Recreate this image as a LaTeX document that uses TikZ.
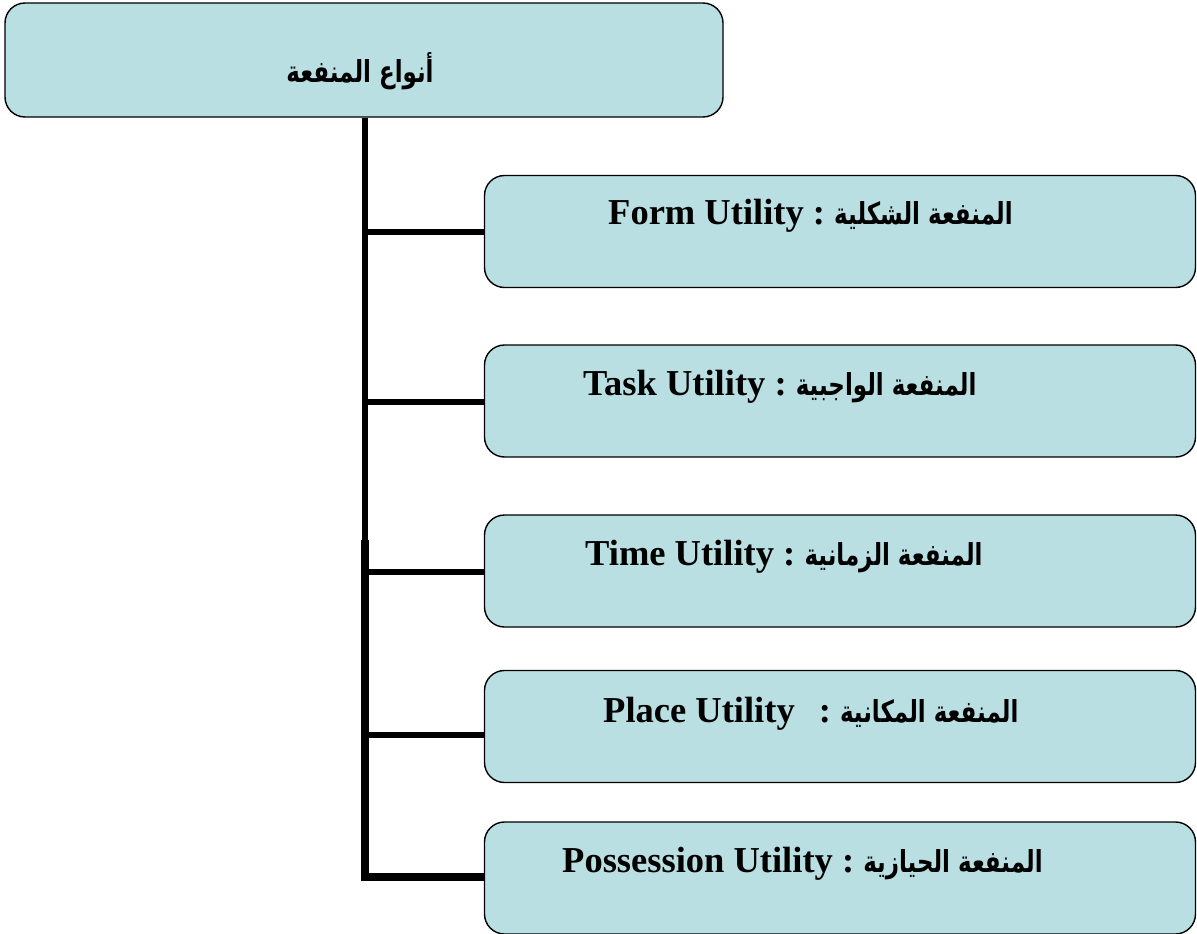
\documentclass[tikz,border=0pt]{standalone}
\usepackage{graphicx}
\usepackage{fontspec}
\setmainfont{Liberation Serif}
\newfontfamily\arabicfont[Script=Arabic]{DejaVu Sans}
\TeXXeTstate=1
\definecolor{boxfill}{HTML}{B9DFE3}
\tikzset{
  ubox/.style={draw=black, line width=1.4pt, fill=boxfill, rounded corners=20pt, minimum width=711pt, minimum height=112pt, inner sep=0pt},
  topbox/.style={ubox, minimum width=718pt, minimum height=114pt},
  utxt/.style={inner sep=0pt, anchor=base west, font=\fontsize{36.5}{40}\selectfont\bfseries},
  toptxt/.style={inner sep=0pt, anchor=base},
  trunk/.style={line width=5.5pt},
  trunkb/.style={line width=8pt},
  branch/.style={line width=6pt}
}
\newcommand{\ar}[1]{\scalebox{0.82}[1.08]{\arabicfont\fontsize{28}{32}\selectfont\bfseries\beginR #1\endR}}
\begin{document}
\begin{tikzpicture}[x=1pt,y=-1pt]
\useasboundingbox (0,0) rectangle (1197,934);
\node[topbox] (top) at (364,60) {};
\node[toptxt] (toptext) at (360,82) {\ar{أنواع المنفعة}};

\node[ubox] (b1) at (840,231.5) {};
\node[ubox] (b2) at (840,401) {};
\node[ubox] (b3) at (840,571) {};
\node[ubox] (b4) at (840,726.5) {};
\node[ubox] (b5) at (840,878) {};

\node[utxt] (t1) at (608,224) {Form Utility :\ \ar{المنفعة الشكلية}};
\node[utxt] (t2) at (583,395) {Task Utility :\ \ar{المنفعة الواجبية}};
\node[utxt] (t3) at (585,565) {Time Utility :\ \ar{المنفعة الزمانية}};
\node[utxt] (t4) at (603,722) {Place Utility\hspace{24pt}:\ \ar{المنفعة المكانية}};
\node[utxt] (t5) at (562,872) {Possession Utility :\ \ar{المنفعة الحيازية}};

\coordinate (j) at (365,540);
\coordinate (e) at (365,877);
\draw[trunk] (top.south -| j) -- (j);
\draw[trunkb] (j) -- (e);
\draw[branch] (j |- 0,232) -- (b1.west |- 0,232);
\draw[branch] (j |- 0,402) -- (b2.west |- 0,402);
\draw[branch] (j |- 0,572) -- (b3.west |- 0,572);
\draw[branch] (j |- 0,735) -- (b4.west |- 0,735);
\draw[trunkb] ([xshift=-4pt]e) -- (b5.west |- e);
\end{tikzpicture}
\end{document}
